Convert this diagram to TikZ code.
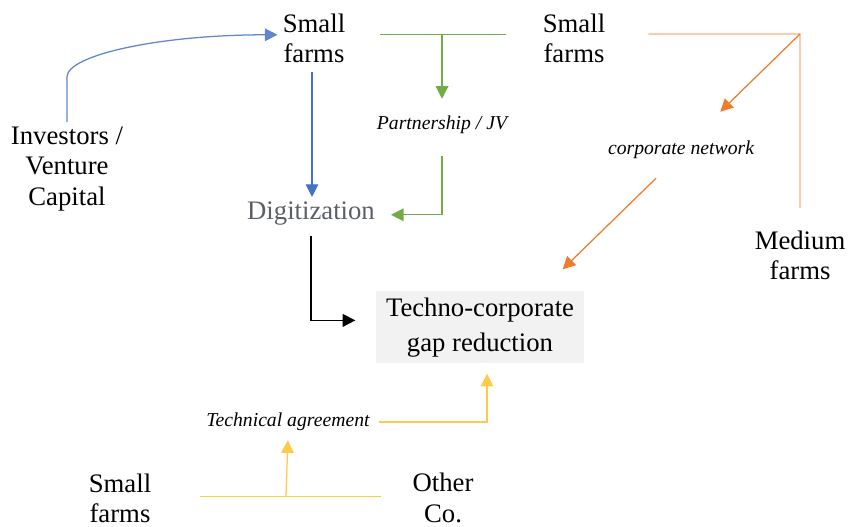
\documentclass[tikz,border=0pt]{standalone}
\usepackage{fontspec}
\setmainfont{Liberation Serif}
\usepackage{xcolor}
\definecolor{mlblue}{HTML}{4472C4}
\definecolor{mlgreen}{HTML}{70AD47}
\definecolor{mlorange}{HTML}{ED7D31}
\definecolor{mlpeach}{HTML}{F4B183}
\definecolor{mlyellow}{HTML}{FFC94A}
\definecolor{mlgray}{HTML}{5B5F69}
\definecolor{mlbox}{HTML}{F2F2F2}
\usetikzlibrary{arrows.meta,positioning,calc}

\begin{document}
\begin{tikzpicture}[
  actor/.style={align=center,font=\fontsize{19}{21.5}\selectfont},
  tie/.style={align=center,font=\fontsize{14}{16}\selectfont\itshape},
  tip/.style={-{Triangle[length=9pt,width=9pt]}},
  line width=0.9pt]
  \useasboundingbox (0,0) rectangle (21.2,-13.175);

  % Farms and partners
  \node[actor] (sfA) at (7.85,-0.95) {Small\\farms};
  \node[actor] (sfB) at (14.35,-0.95) {Small\\farms};
  \node[actor] (inv) at (1.675,-4.225) {Investors /\\Venture\\Capital};
  \node[actor,text=mlgray] (dig) at (7.775,-5.35) {Digitization};
  \node[actor] (med) at (20,-6.375) {Medium\\farms};
  \node[actor] (sfC) at (3,-12.45) {Small\\farms};
  \node[actor] (oco) at (11.075,-12.45) {Other\\Co.};

  % Target
  \node[fill=mlbox,align=center,font=\fontsize{19}{25}\selectfont,
        minimum width=5.2cm,minimum height=1.8cm]
        (gap) at (12,-8.18) {Techno-corporate\\gap reduction};

  % Link labels
  \node[tie] (pjv) at (11.05,-3.125) {Partnership / JV};
  \node[tie] (cnet) at (17.025,-3.75) {corporate network};
  \node[tie] (tag) at (7.2,-10.55) {Technical agreement};

  % Investors -> small farms -> digitization
  \draw[tip,mlblue!85] (inv.north) -- ++(0,1.12)
        .. controls +(0,0.55) and +(-2.95,0) .. ([yshift=0.08cm]sfA.west);
  \draw[tip,mlblue,shorten <=0.1cm]
        ([xshift=-0.05cm]sfA.south) -- ([xshift=-0.05cm]sfA.south |- dig.north);

  % Partnership / JV
  \coordinate (pj) at (11.05,-0.875);
  \draw[mlgreen,shorten <=0.75cm,shorten >=0.78cm]
        ([yshift=0.08cm]sfA.east) -- ([yshift=0.08cm]sfB.west);
  \draw[tip,mlgreen,shorten >=0.3cm] (pj) -- (pjv.north);
  \draw[tip,mlgreen,shorten <=0.41cm,shorten >=0.27cm]
        (pjv.south) |- ([yshift=-0.02cm]dig.east);

  % Corporate network
  \coordinate (cn) at (20,-0.85);
  \draw[mlpeach,shorten <=0.95cm,shorten >=0.43cm]
        ([yshift=0.1cm]sfB.east) -- (cn) -- (med.north);
  \draw[tip,mlorange,shorten >=0.86cm] (cn) -- (cnet);
  \draw[tip,mlorange] ($(cnet.south)+(-0.625,-0.35)$)
        -- ($(gap.north east)+(-0.55,0.53)$);

  % Digitization -> gap reduction
  \draw[tip,black,line width=1.1pt,shorten <=0.12cm,shorten >=0.5cm]
        (dig.south) |- ([yshift=0.17cm]gap.west);

  % Technical agreement
  \coordinate (ta) at (7.15,-12.41);
  \draw[mlyellow,shorten <=1.1cm,shorten >=0.65cm]
        ([yshift=0.04cm]sfC.east) -- ([yshift=0.04cm]oco.west);
  \draw[tip,mlyellow,shorten >=0.1cm] (ta) -- (tag.south);
  \draw[tip,mlyellow,shorten <=0.1cm,shorten >=0.25cm]
        ([yshift=0cm]tag.east) -| ([xshift=0.175cm]gap.south);
\end{tikzpicture}
\end{document}
